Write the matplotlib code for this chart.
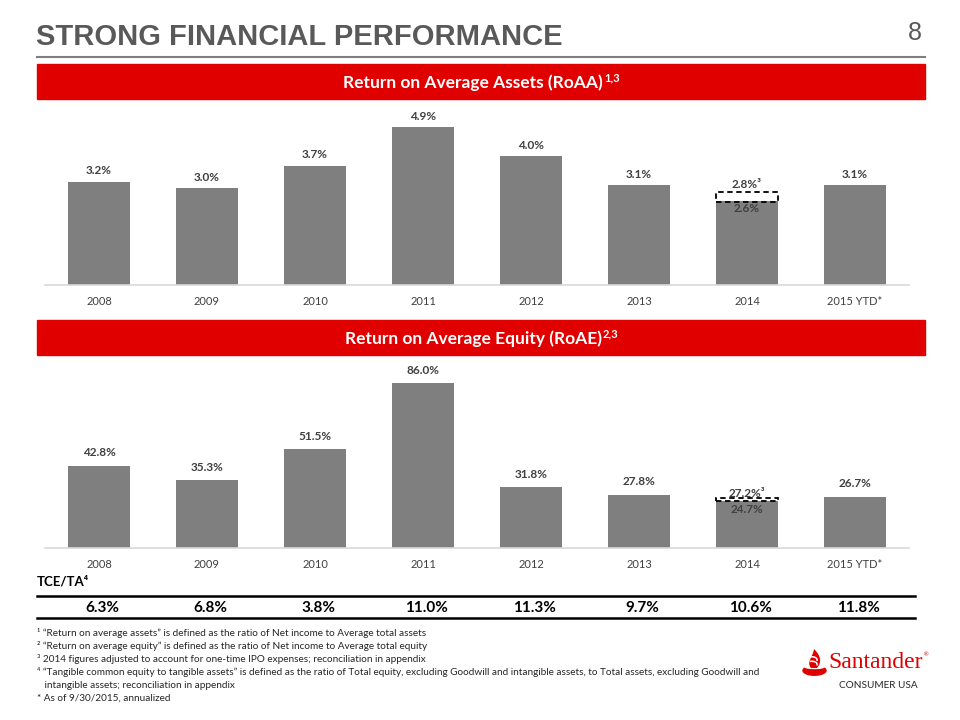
import matplotlib
matplotlib.use("Agg")
import matplotlib.pyplot as plt
from matplotlib.patches import Rectangle, Ellipse, PathPatch
from matplotlib.path import Path
from matplotlib.lines import Line2D
from matplotlib.transforms import blended_transform_factory

# ── data ──────────────────────────────────────────────────────────────────────
years = ["2008", "2009", "2010", "2011", "2012", "2013", "2014", "2015 YTD*"]
roaa = [3.2, 3.0, 3.7, 4.9, 4.0, 3.1, 2.6, 3.1]
roae = [42.8, 35.3, 51.5, 86.0, 31.8, 27.8, 24.7, 26.7]
tce_ta = [6.3, 6.8, 3.8, 11.0, 11.3, 9.7, 10.6, 11.8]
adj_year = "2014"
roaa_adj = 2.8
roae_adj = 27.2

footnotes = [
    "\u00b9 \u201cReturn on average assets\u201d is defined as the ratio of Net income to Average total assets",
    "\u00b2 \u201cReturn on average equity\u201d is defined as the ratio of Net income to Average total equity",
    "\u00b3 2014 figures adjusted to account for one-time IPO expenses; reconciliation in appendix",
    "\u2074 \u201cTangible common equity to tangible assets\u201d is defined as the ratio of Total equity, "
    "excluding Goodwill and intangible assets, to Total assets, excluding Goodwill and",
    "   intangible assets; reconciliation in appendix",
    "* As of 9/30/2015, annualized",
]

W, H = 960, 720
RED = "#E00000"
BAR = "#7F7F7F"
DARK = "#404040"
SANS = ["Lato", "DejaVu Sans"]


def fx(x):
    return x / W


def fy(y):
    return 1 - y / H


fig = plt.figure(figsize=(W / 100, H / 100), dpi=100)
fig.patch.set_facecolor("white")
renderer = fig.canvas.get_renderer()

# ── header ────────────────────────────────────────────────────────────────────
fig.text(fx(36), fy(37), "STRONG FINANCIAL PERFORMANCE", ha="left", va="center",
         fontsize=21, fontweight="bold", color="#595959",
         family=["Liberation Sans", "DejaVu Sans"])
fig.text(fx(922), fy(33), "8", ha="right", va="center", fontsize=18,
         color="#595959", family=["Liberation Sans", "DejaVu Sans"])
fig.add_artist(Line2D([fx(37), fx(925)], [fy(57), fy(57)], color="#7F7F7F",
                      lw=1.5, transform=fig.transFigure))


def red_band(y_top, y_bot, label, sup):
    fig.add_artist(Rectangle((fx(37), fy(y_bot)), fx(925) - fx(37),
                             fy(y_top) - fy(y_bot), color=RED,
                             transform=fig.transFigure, zorder=1))
    yc = (y_top + y_bot) / 2 + 1
    main = fig.text(0, fy(yc), label, ha="left", va="center", fontsize=12.5,
                    fontweight="bold", color="white", family=SANS, zorder=2)
    small = fig.text(0, fy(yc - 5), sup, ha="left", va="center", fontsize=8,
                     fontweight="bold", color="white", family=SANS, zorder=2)
    w_main = main.get_window_extent(renderer).width
    w_sup = small.get_window_extent(renderer).width
    x0 = 481 - (w_main + w_sup) / 2
    main.set_x(fx(x0))
    small.set_x(fx(x0 + w_main + 1))


red_band(64, 99, "Return on Average Assets (RoAA)", "1,3")
red_band(320, 355, "Return on Average Equity (RoAE)", "2,3")


# ── bar panels ────────────────────────────────────────────────────────────────
def bar_panel(y_top, y_base, values, ymax, adj, pad, box_top, lab_y):
    ax = fig.add_axes([fx(45), fy(y_base), fx(909) - fx(45),
                       fy(y_top) - fy(y_base)])
    xs = list(range(len(years)))
    ax.bar(xs, values, width=0.575, color=BAR, zorder=2)
    ax.set_xlim(-0.5, len(years) - 0.5)
    ax.set_ylim(0, ymax)
    for s in ["top", "left", "right"]:
        ax.spines[s].set_visible(False)
    ax.spines["bottom"].set_color("#D9D9D9")
    ax.spines["bottom"].set_linewidth(1.2)
    ax.set_yticks([])
    ax.set_xticks(xs)
    ax.set_xticklabels(years, fontsize=8, color="#404040", family=SANS)
    ax.tick_params(axis="x", length=0, pad=8)
    ax.patch.set_alpha(0)

    i_adj = years.index(adj_year)
    for i, v in enumerate(values):
        if i == i_adj:
            continue
        ax.text(i, v + pad, f"{v:.1f}%", ha="center", va="bottom",
                fontsize=8.5, fontweight="bold", color=DARK, family=SANS)

    # adjusted value box for 2014
    v = values[i_adj]
    bottom = v - pad * 0.1
    ax.add_patch(Rectangle((i_adj - 0.2875, bottom), 0.575, box_top - bottom,
                           facecolor="none", edgecolor="black", lw=1.3,
                           linestyle=(0, (3, 2)), zorder=3))
    ax.text(i_adj, lab_y, f"{adj:.1f}%\u00b3", ha="center", va="center",
            fontsize=8.5, fontweight="bold", color=DARK, family=SANS, zorder=4)
    ax.text(i_adj, v - pad * 0.4, f"{v:.1f}%", ha="center", va="top",
            fontsize=8.5, fontweight="bold", color=DARK, family=SANS, zorder=4)
    return ax


ax1 = bar_panel(110, 285, roaa, 5.43, roaa_adj, 0.17,
                box_top=roaa_adj + 0.08, lab_y=roaa_adj + 0.32)
ax2 = bar_panel(360, 548, roae, 98.0, roae_adj, 3.9,
                box_top=roae_adj - 1.0, lab_y=roae_adj + 1.4)

# ── TCE/TA table ──────────────────────────────────────────────────────────────
fig.text(fx(37), fy(582), "TCE/TA\u2074", ha="left", va="center", fontsize=9.5,
         fontweight="bold", color="black", family=SANS)
for y in (596, 618):
    fig.add_artist(Line2D([fx(37), fx(915)], [fy(y), fy(y)], color="black",
                          lw=1.8, transform=fig.transFigure))
trans = blended_transform_factory(ax2.transData, fig.transFigure)
for i, v in enumerate(tce_ta):
    fig.text(i + 0.03, fy(607.5), f"{v:.1f}%", transform=trans, ha="center",
             va="center", fontsize=11, fontweight="bold", color="black",
             family=SANS)

# ── footnotes ─────────────────────────────────────────────────────────────────
for k, line in enumerate(footnotes):
    fig.text(fx(37), fy(633 + 13 * k), line, ha="left", va="center",
             fontsize=7.2, color="#262626", family=SANS)

# ── logo ──────────────────────────────────────────────────────────────────────
lax = fig.add_axes([fx(800), fy(680), fx(830) - fx(800), fy(648) - fy(680)])
lax.set_xlim(800, 830)
lax.set_ylim(680, 648)
lax.axis("off")
lax.add_patch(Ellipse((814.5, 670.5), 23, 9.5, color=RED))
lax.add_patch(Ellipse((814.5, 666.5), 20, 4, color="white"))
flame = Path([(811, 668), (806, 662), (813, 657), (814, 649),
              (821, 656), (822, 662), (817, 668), (811, 668)],
             [Path.MOVETO, Path.CURVE4, Path.CURVE4, Path.CURVE4,
              Path.CURVE4, Path.CURVE4, Path.CURVE4, Path.CLOSEPOLY])
lax.add_patch(PathPatch(flame, facecolor=RED, edgecolor="none"))
for dy in (0, 4.5):
    stripe = Path([(810, 657 + dy), (814, 656 + dy), (818, 658 + dy),
                   (817, 661 + dy)],
                  [Path.MOVETO, Path.CURVE4, Path.CURVE4, Path.CURVE4])
    lax.add_patch(PathPatch(stripe, facecolor="none", edgecolor="white",
                            lw=1.1))
fig.text(fx(828), fy(663), "Santander", ha="left", va="center", fontsize=17,
         color=RED, family=["Liberation Serif", "DejaVu Serif"])
fig.text(fx(924), fy(655), "\u00ae", ha="left", va="center", fontsize=4,
         color=RED, family=SANS)
fig.text(fx(878), fy(686), "CONSUMER USA", ha="center", va="center",
         fontsize=7.2, color="#262626", family=SANS)

fig.savefig("out.png", dpi=100, facecolor="white")
